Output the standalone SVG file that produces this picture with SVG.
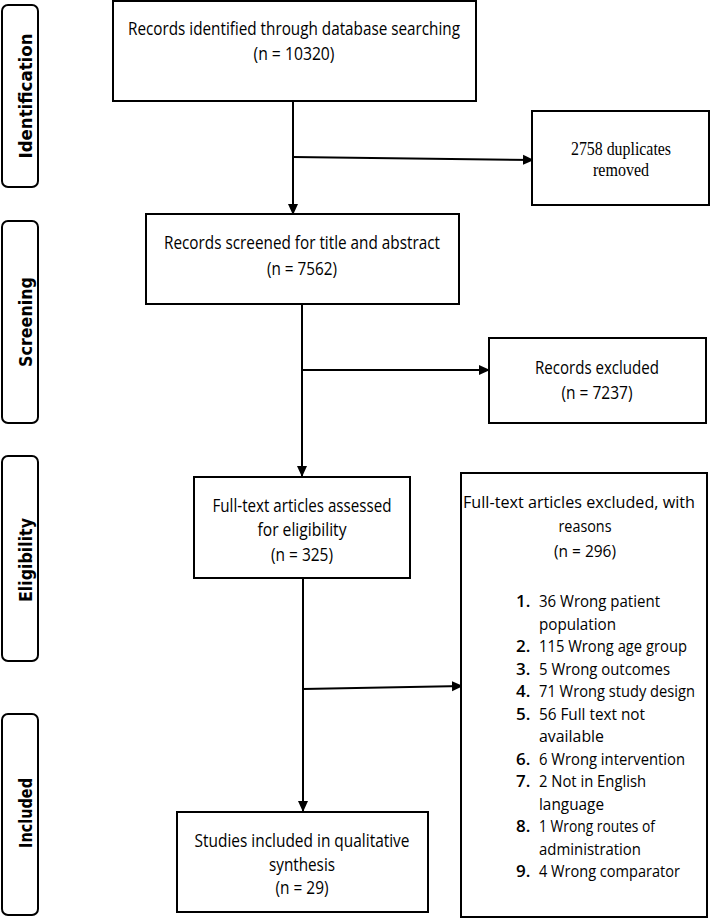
<svg xmlns="http://www.w3.org/2000/svg" width="710" height="918" viewBox="0 0 710 918">
<style>
.box{fill:#fff;stroke:#000;stroke-width:2}
.side{fill:#fff;stroke:#000;stroke-width:2}
.t{font-family:"Open Sans","Liberation Sans",sans-serif;font-size:18px;fill:#000;text-anchor:middle}
.r{font-family:"Open Sans","Liberation Sans",sans-serif;font-size:17px;fill:#000;text-anchor:middle}
.l{font-family:"Open Sans","Liberation Sans",sans-serif;font-size:17px;fill:#000}
.n{font-family:"Open Sans","Liberation Sans",sans-serif;font-size:17px;font-weight:600;fill:#000}
.s{font-family:"Liberation Serif","Times New Roman",serif;font-size:19px;fill:#000;text-anchor:middle}
.v{font-family:"DejaVu Sans","Liberation Sans",sans-serif;font-size:17px;font-weight:bold;fill:#000;text-anchor:middle}
.c{stroke:#000;stroke-width:2;fill:none}
</style>
<defs>
<marker id="ah" markerUnits="userSpaceOnUse" markerWidth="12" markerHeight="12" viewBox="0 0 12 12" refX="11" refY="6" orient="auto">
<path d="M0,1 L11,6 L0,11 Z" fill="#000"/>
</marker>
</defs>
<rect width="710" height="918" fill="#fff"/>

<g id="side-identification">
<rect class="side" x="2" y="5" width="36" height="182" rx="6"/>
<text class="v" x="32" y="96" transform="rotate(-90 32 96)" textLength="125" lengthAdjust="spacingAndGlyphs">Identification</text>
</g>
<g id="side-screening">
<rect class="side" x="2" y="221" width="36" height="202" rx="6"/>
<text class="v" x="32" y="322" transform="rotate(-90 32 322)" textLength="90" lengthAdjust="spacingAndGlyphs">Screening</text>
</g>
<g id="side-eligibility">
<rect class="side" x="2" y="456" width="36" height="205" rx="6"/>
<text class="v" x="32" y="560" transform="rotate(-90 32 560)" textLength="84" lengthAdjust="spacingAndGlyphs">Eligibility</text>
</g>
<g id="side-included">
<rect class="side" x="2" y="714" width="36" height="201" rx="6"/>
<text class="v" x="32" y="813" transform="rotate(-90 32 813)" textLength="70" lengthAdjust="spacingAndGlyphs">Included</text>
</g>

<g id="connectors">
<line class="c" x1="293" y1="101" x2="293" y2="215" marker-end="url(#ah)"/>
<line class="c" x1="293" y1="157" x2="534" y2="160" marker-end="url(#ah)"/>
<line class="c" x1="302" y1="304" x2="302" y2="477" marker-end="url(#ah)"/>
<line class="c" x1="302" y1="370" x2="490" y2="370" marker-end="url(#ah)"/>
<line class="c" x1="303" y1="578" x2="303" y2="812" marker-end="url(#ah)"/>
<line class="c" x1="303" y1="689" x2="463" y2="686" marker-end="url(#ah)"/>
</g>

<g id="identified">
<rect class="box" x="113" y="1" width="363" height="100"/>
<text class="t" x="294" y="35" textLength="332" lengthAdjust="spacingAndGlyphs">Records identified through database searching</text>
<text class="t" x="294" y="60" textLength="81" lengthAdjust="spacingAndGlyphs">(n = 10320)</text>
</g>

<g id="duplicates">
<rect class="box" x="532" y="111" width="177" height="94"/>
<text class="s" x="621" y="155" textLength="100" lengthAdjust="spacingAndGlyphs">2758 duplicates</text>
<text class="s" x="621" y="176" textLength="56" lengthAdjust="spacingAndGlyphs">removed</text>
</g>

<g id="screened">
<rect class="box" x="146" y="214" width="313" height="90"/>
<text class="t" x="302" y="249" textLength="276" lengthAdjust="spacingAndGlyphs">Records screened for title and abstract</text>
<text class="t" x="302" y="275" textLength="70" lengthAdjust="spacingAndGlyphs">(n = 7562)</text>
</g>

<g id="excluded">
<rect class="box" x="489" y="338" width="217" height="85"/>
<text class="t" x="597" y="374" textLength="124" lengthAdjust="spacingAndGlyphs">Records excluded</text>
<text class="t" x="597" y="399" textLength="71" lengthAdjust="spacingAndGlyphs">(n = 7237)</text>
</g>

<g id="fulltext">
<rect class="box" x="194" y="477" width="216" height="101"/>
<text class="t" x="302" y="512" textLength="179" lengthAdjust="spacingAndGlyphs">Full-text articles assessed</text>
<text class="t" x="302" y="536" textLength="89" lengthAdjust="spacingAndGlyphs">for eligibility</text>
<text class="t" x="302" y="561" textLength="62" lengthAdjust="spacingAndGlyphs">(n = 325)</text>
</g>

<g id="fulltext-excluded">
<rect class="box" x="461" y="473" width="246" height="444"/>
<text class="r" x="579" y="508" textLength="232" lengthAdjust="spacingAndGlyphs">Full-text articles excluded, with</text>
<text class="r" x="585" y="532" textLength="53" lengthAdjust="spacingAndGlyphs">reasons</text>
<text class="r" x="585" y="557" textLength="62" lengthAdjust="spacingAndGlyphs">(n = 296)</text>
<text class="n" x="516" y="607">1.</text>
<text class="l" x="539" y="607" textLength="121" lengthAdjust="spacingAndGlyphs">36 Wrong patient</text>
<text class="l" x="539" y="629.5" textLength="77" lengthAdjust="spacingAndGlyphs">population</text>
<text class="n" x="516" y="652">2.</text>
<text class="l" x="539" y="652" textLength="148" lengthAdjust="spacingAndGlyphs">115 Wrong age group</text>
<text class="n" x="516" y="674.5">3.</text>
<text class="l" x="539" y="674.5" textLength="131" lengthAdjust="spacingAndGlyphs">5 Wrong outcomes</text>
<text class="n" x="516" y="697">4.</text>
<text class="l" x="539" y="697" style="font-size:15.5px" textLength="156" lengthAdjust="spacingAndGlyphs">71 Wrong study design</text>
<text class="n" x="516" y="719.5">5.</text>
<text class="l" x="539" y="719.5" textLength="106" lengthAdjust="spacingAndGlyphs">56 Full text not</text>
<text class="l" x="539" y="742" textLength="65" lengthAdjust="spacingAndGlyphs">available</text>
<text class="n" x="516" y="764.5">6.</text>
<text class="l" x="539" y="764.5" textLength="146" lengthAdjust="spacingAndGlyphs">6 Wrong intervention</text>
<text class="n" x="516" y="787">7.</text>
<text class="l" x="539" y="787" textLength="107" lengthAdjust="spacingAndGlyphs">2 Not in English</text>
<text class="l" x="539" y="809.5" textLength="65" lengthAdjust="spacingAndGlyphs">language</text>
<text class="n" x="516" y="832">8.</text>
<text class="l" x="539" y="832" textLength="116" lengthAdjust="spacingAndGlyphs">1 Wrong routes of</text>
<text class="l" x="539" y="854.5" textLength="102" lengthAdjust="spacingAndGlyphs">administration</text>
<text class="n" x="516" y="877">9.</text>
<text class="l" x="539" y="877" textLength="141" lengthAdjust="spacingAndGlyphs">4 Wrong comparator</text>
</g>

<g id="included">
<rect class="box" x="177" y="812" width="251" height="100"/>
<text class="t" x="302" y="847" textLength="215" lengthAdjust="spacingAndGlyphs">Studies included in qualitative</text>
<text class="t" x="302" y="871" textLength="66" lengthAdjust="spacingAndGlyphs">synthesis</text>
<text class="t" x="302" y="894" textLength="53" lengthAdjust="spacingAndGlyphs">(n = 29)</text>
</g>
</svg>
